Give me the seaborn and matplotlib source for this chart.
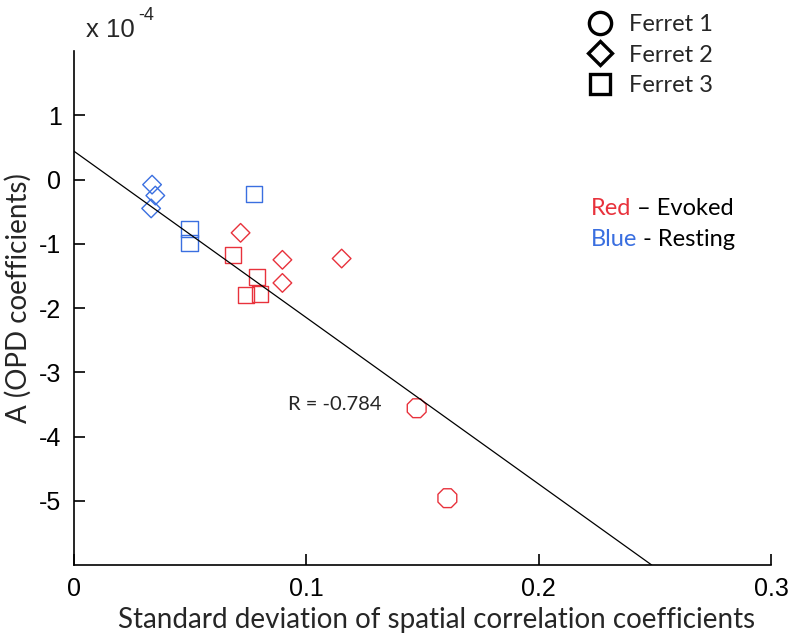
"""
OPD coefficient A vs. std of spatial correlation coefficients, per ferret.
"""

import numpy as np
import pandas as pd
import matplotlib
matplotlib.use('Agg')
import matplotlib.pyplot as plt
from matplotlib.lines import Line2D
import seaborn as sns

# data (A in units of 1e-4)
ferret1_sd = [0.1475, 0.1607]
ferret1_a = [-3.56, -4.96]
ferret1_cond = ['Evoked', 'Evoked']

ferret2_sd = [0.0336, 0.0350, 0.0332, 0.0717, 0.0897, 0.0897, 0.1152]
ferret2_a = [-0.08, -0.25, -0.45, -0.83, -1.25, -1.61, -1.23]
ferret2_cond = ['Resting', 'Resting', 'Resting', 'Evoked', 'Evoked', 'Evoked', 'Evoked']

ferret3_sd = [0.0497, 0.0497, 0.0775, 0.0683, 0.0788, 0.0739, 0.0799]
ferret3_a = [-0.77, -0.99, -0.23, -1.18, -1.52, -1.80, -1.78]
ferret3_cond = ['Resting', 'Resting', 'Resting', 'Evoked', 'Evoked', 'Evoked', 'Evoked']

# fitted line
fit_intercept = 0.44
fit_slope = -25.9
r_value = -0.784

RED = '#E8323C'
BLUE = '#3A6FE0'


def make_df():
    frames = []
    for name, sd, a, cond in [('Ferret 1', ferret1_sd, ferret1_a, ferret1_cond),
                              ('Ferret 2', ferret2_sd, ferret2_a, ferret2_cond),
                              ('Ferret 3', ferret3_sd, ferret3_a, ferret3_cond)]:
        frames.append(pd.DataFrame({'sd': sd, 'A': a, 'ferret': name, 'cond': cond}))
    return pd.concat(frames, ignore_index=True)


df = make_df()

sns.set_style('white')
plt.rcParams['font.family'] = ['Liberation Sans', 'DejaVu Sans']
plt.rcParams['axes.unicode_minus'] = False
label_font = ['Lato', 'DejaVu Sans']

fig = plt.figure(figsize=(7.92, 6.38), dpi=100)
ax = fig.add_axes([74 / 792, 73 / 638, 697 / 792, 514 / 638])

markers = {'Ferret 1': '8', 'Ferret 2': 'D', 'Ferret 3': 's'}
sizes = {'Ferret 1': 215, 'Ferret 2': 90, 'Ferret 3': 135}
palette = {'Evoked': RED, 'Resting': BLUE}

for name, sub in df.groupby('ferret'):
    sns.scatterplot(data=sub, x='sd', y='A', hue='cond', palette=palette,
                    marker=markers[name], s=sizes[name], linewidth=1.0,
                    legend=False, ax=ax)

# hollow markers
for coll in ax.collections:
    fc = coll.get_facecolors()
    coll.set_edgecolors(fc)
    coll.set_facecolors('none')

ax.axline((0, fit_intercept), slope=fit_slope, color='black', lw=0.9)

ax.set_xlim(0, 0.3)
ax.set_ylim(-6, 2)
ax.set_xticks([0, 0.1, 0.2, 0.3])
ax.set_xticklabels(['0', '0.1', '0.2', '0.3'])
ax.set_yticks([-5, -4, -3, -2, -1, 0, 1])
ax.tick_params(direction='in', length=8, width=1.2, labelsize=18, pad=9,
               colors='black', bottom=True, left=True)
sns.despine(ax=ax)
for side in ['left', 'bottom']:
    ax.spines[side].set_linewidth(1.2)
    ax.spines[side].set_color('black')

ax.set_xlabel('Standard deviation of spatial correlation coefficients',
              fontsize=20, family=label_font)
ax.xaxis.set_label_coords(0.52, -0.082)
ax.set_ylabel('A (OPD coefficients)', fontsize=20, family=label_font)
ax.yaxis.set_label_coords(-0.061, 0.52)

fig.text(86 / 792, 1 - 37 / 638, 'x 10', fontsize=18.5, va='baseline')
fig.text(138 / 792, 1 - 20 / 638, '-4', fontsize=13, va='baseline')

ax.text(0.0922, -3.5, f'R = {r_value}', fontsize=14.5, family=label_font,
        va='center')

# ferret legend
handles = [Line2D([], [], ls='none', marker='o', ms=16, mfc='none', mec='black', mew=2.4),
           Line2D([], [], ls='none', marker='D', ms=12.5, mfc='none', mec='black', mew=2.4),
           Line2D([], [], ls='none', marker='s', ms=15, mfc='none', mec='black', mew=2.4)]
leg = fig.legend(handles, ['Ferret 1', 'Ferret 2', 'Ferret 3'], loc='upper left',
                 bbox_to_anchor=(562 / 792, 1 + 7 / 638), frameon=False,
                 handletextpad=0.55, labelspacing=0.4, handlelength=1.4,
                 prop={'family': label_font, 'size': 17})

# colour key
t1 = fig.text(591 / 792, 1 - 215 / 638, 'Red', color=RED, fontsize=17, family=label_font)
ax.annotate(' \u2013 Evoked', xy=(1, 0), xycoords=t1, va='bottom', fontsize=17,
            family=label_font, color='black')
t2 = fig.text(591 / 792, 1 - 246 / 638, 'Blue', color=BLUE, fontsize=17, family=label_font)
ax.annotate(' - Resting', xy=(1, 0), xycoords=t2, va='bottom', fontsize=17,
            family=label_font, color='black')

plt.savefig('out.png', dpi=100)
plt.close()
